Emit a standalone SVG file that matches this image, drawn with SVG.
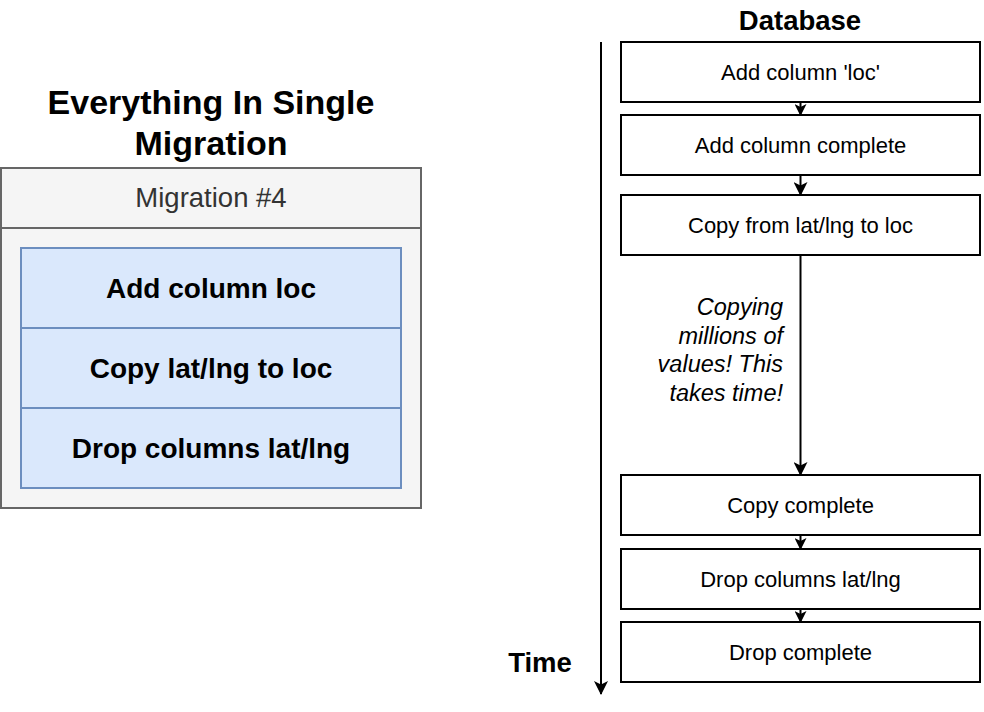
<svg xmlns="http://www.w3.org/2000/svg" width="984" height="712" viewBox="0 0 984 712">
<style>
.t{font-family:"Liberation Sans",Arial,sans-serif;fill:#000}
.b{font-weight:bold}
.box{fill:#fff;stroke:#000;stroke-width:2}
.row{fill:#dae8fc;stroke:#6c8ebf;stroke-width:2}
.cn{fill:none;stroke:#000;stroke-width:2}
</style>
<defs>
<marker id="ah" markerWidth="12" markerHeight="12" refX="11" refY="6" orient="auto" markerUnits="userSpaceOnUse">
<path d="M0,0 L12,6 L0,12 L3,6 Z" fill="#000"/>
</marker>
<marker id="ah2" markerWidth="14" markerHeight="14" refX="13" refY="7" orient="auto" markerUnits="userSpaceOnUse">
<path d="M0,0 L14,7 L0,14 L3.5,7 Z" fill="#000"/>
</marker>
</defs>
<g id="title"><text class="t b" x="211" y="114" font-size="34" text-anchor="middle">Everything In Single</text><text class="t b" x="211" y="155" font-size="34" text-anchor="middle">Migration</text></g>
<g id="migration4">
<rect x="1" y="168" width="420" height="340" fill="#f5f5f5" stroke="#666" stroke-width="2"/>
<line x1="1" y1="228" x2="421" y2="228" stroke="#666" stroke-width="2"/>
<text class="t" x="211" y="207" font-size="27.5" text-anchor="middle" style="fill:#333">Migration #4</text>
</g>
<g id="row1"><rect class="row" x="21" y="248" width="380" height="80"/><text class="t b" x="211" y="298" font-size="28" text-anchor="middle">Add column loc</text></g>
<g id="row2"><rect class="row" x="21" y="328" width="380" height="80"/><text class="t b" x="211" y="378" font-size="28" text-anchor="middle">Copy lat/lng to loc</text></g>
<g id="row3"><rect class="row" x="21" y="408" width="380" height="80"/><text class="t b" x="211" y="458" font-size="28" text-anchor="middle">Drop columns lat/lng</text></g>
<g id="database"><text class="t b" x="800" y="30" font-size="27.5" text-anchor="middle">Database</text></g>
<g id="time"><text class="t b" x="540" y="672" font-size="27.5" text-anchor="middle">Time</text></g>
<g id="n1"><rect class="box" x="621" y="42" width="359" height="60"/><text class="t" x="800.5" y="80" font-size="22" text-anchor="middle">Add column 'loc'</text></g>
<g id="n2"><rect class="box" x="621" y="115" width="359" height="60"/><text class="t" x="800.5" y="153" font-size="22" text-anchor="middle">Add column complete</text></g>
<g id="n3"><rect class="box" x="621" y="195" width="359" height="60"/><text class="t" x="800.5" y="233" font-size="22" text-anchor="middle">Copy from lat/lng to loc</text></g>
<g id="n4"><rect class="box" x="621" y="475" width="359" height="60"/><text class="t" x="800.5" y="513" font-size="22" text-anchor="middle">Copy complete</text></g>
<g id="n5"><rect class="box" x="621" y="549" width="359" height="60"/><text class="t" x="800.5" y="587" font-size="22" text-anchor="middle">Drop columns lat/lng</text></g>
<g id="n6"><rect class="box" x="621" y="622" width="359" height="60"/><text class="t" x="800.5" y="660" font-size="22" text-anchor="middle">Drop complete</text></g>
<g id="note"><text class="t" font-size="23.5" font-style="italic" text-anchor="end"><tspan x="783" y="315">Copying</tspan><tspan x="783" y="343.5">millions of</tspan><tspan x="783" y="372">values! This</tspan><tspan x="783" y="400.5">takes time!</tspan></text></g>
<g id="connectors">
<line class="cn" x1="800.5" y1="102" x2="800.5" y2="115" marker-end="url(#ah)"/>
<line class="cn" x1="800.5" y1="175" x2="800.5" y2="195" marker-end="url(#ah2)"/>
<line class="cn" x1="800.5" y1="255" x2="800.5" y2="475" marker-end="url(#ah2)"/>
<line class="cn" x1="800.5" y1="535" x2="800.5" y2="549" marker-end="url(#ah)"/>
<line class="cn" x1="800.5" y1="609" x2="800.5" y2="622" marker-end="url(#ah)"/>
<line class="cn" x1="601" y1="42" x2="601" y2="694" marker-end="url(#ah2)"/>
</g>
</svg>
